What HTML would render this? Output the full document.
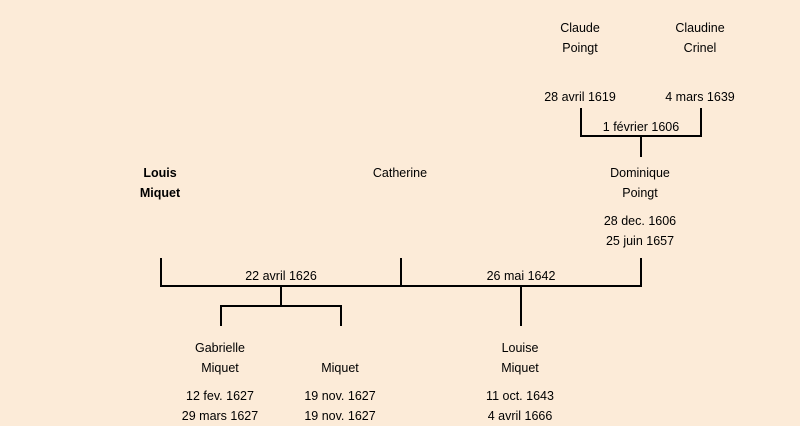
<!DOCTYPE html>
<html><head><meta charset="utf-8"><style>
html,body{margin:0;padding:0}
body{width:800px;height:421px;background:#fcebd8;position:relative;overflow:hidden;font-family:"Comic Sans MS","Liberation Sans",sans-serif;font-size:12.5px;color:#000}
.t{position:absolute;width:160px;margin-left:-80px;text-align:center;line-height:20px;white-space:nowrap}
svg{position:absolute;left:0;top:0}
b{font-weight:bold}
</style></head><body>
<svg width="800" height="421" stroke="#000" stroke-width="2" fill="none">
<path d="M581 108V136H701V108M641 136V157"/>
<path d="M161 258V286H641V258M401 258V286M281 286V306M221 326V306H341V326M521 286V326"/>
</svg>
<div class="t" style="left:580px;top:18px">Claude<br>Poingt</div>
<div class="t" style="left:700px;top:18px">Claudine<br>Crinel</div>
<div class="t" style="left:580px;top:87px">28 avril 1619</div>
<div class="t" style="left:700px;top:87px">4 mars 1639</div>
<div class="t" style="left:641px;top:117px">1 février 1606</div>
<div class="t" style="left:640px;top:163px">Dominique<br>Poingt</div>
<div class="t" style="left:640px;top:211px">28 dec. 1606<br>25 juin 1657</div>
<div class="t" style="left:160px;top:163px"><b>Louis<br>Miquet</b></div>
<div class="t" style="left:400px;top:163px">Catherine</div>
<div class="t" style="left:281px;top:266px">22 avril 1626</div>
<div class="t" style="left:521px;top:266px">26 mai 1642</div>
<div class="t" style="left:220px;top:338px">Gabrielle<br>Miquet</div>
<div class="t" style="left:340px;top:358px">Miquet</div>
<div class="t" style="left:520px;top:338px">Louise<br>Miquet</div>
<div class="t" style="left:220px;top:386px">12 fev. 1627<br>29 mars 1627</div>
<div class="t" style="left:340px;top:386px">19 nov. 1627<br>19 nov. 1627</div>
<div class="t" style="left:520px;top:386px">11 oct. 1643<br>4 avril 1666</div>
</body></html>
